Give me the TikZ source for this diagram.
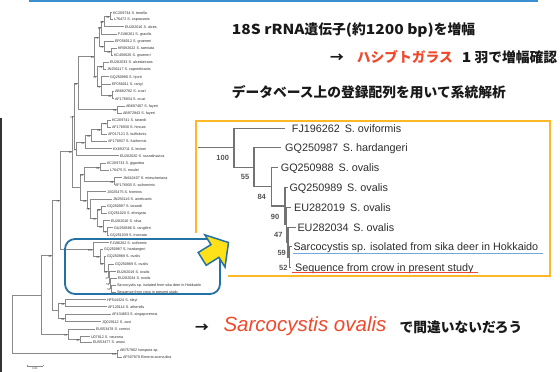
\documentclass[tikz,border=0pt]{standalone}
\usepackage{fontspec}
\usepackage{graphicx}
\setmainfont{Liberation Sans}
\newfontfamily\cjk{Noto Sans CJK JP}
\definecolor{topblue}{HTML}{3A8FD0}
\definecolor{boxblue}{HTML}{2471A3}
\definecolor{gold}{HTML}{FDB827}
\definecolor{arrowyellow}{HTML}{FFE11A}
\definecolor{redtxt}{HTML}{EE4A2C}
\definecolor{treegray}{HTML}{8A8A8A}
\definecolor{txtgray}{HTML}{2E2E2E}
\definecolor{ulblue}{HTML}{6FA8DC}
\definecolor{bstxt}{HTML}{555555}
\newcommand\Lf[4]{\coordinate (L#1) at (#2,#3); \node[lf] (tL#1) at (#2+0.8,#3+1.3) {#4};}
\newcommand\Bs[2]{\node[bs] (b#1) at (#1) {#2};}
\newcommand\Rl[5]{\coordinate (R#1) at (#2,#4); \node[rt] (tR#1) at (#3,#4+3.8) {#5};}
\newcommand\lat[1]{\scalebox{1.13}[1]{#1}}
\begin{document}
\begin{tikzpicture}[x=1pt,y=-1pt,
  br/.style={draw=treegray,line width=0.45pt},
  lf/.style={anchor=base west,inner sep=0pt,font=\fontsize{3.7}{4}\selectfont,text=txtgray},
  bs/.style={anchor=north east,inner sep=0pt,xshift=-0.3pt,yshift=-0.2pt,font=\fontsize{2.7}{3}\selectfont,text=txtgray},
  rbr/.style={draw=gray!90!black,line width=1.1pt},
  rt/.style={anchor=base west,inner sep=0pt,font=\fontsize{10.8}{12}\selectfont,text=txtgray},
  rbs/.style={inner sep=0pt,font=\fontsize{7.5}{8}\selectfont\bfseries,text=bstxt},
  jp/.style={anchor=base west,inner sep=0pt,font=\cjk\bfseries\fontsize{13.75}{15}\selectfont,text=black!90}
]
\useasboundingbox (0,0) rectangle (560,372);
\fill[white] (0,0) rectangle (560,372);
\fill[black!80] (0,118) rectangle (2,372);
\draw[topblue,line width=1.8pt] (29,1) -- (538,1);

% ---------- small tree: leaves ----------
\Lf{1}{112}{12.7}{KC209734 S. tenella}
\Lf{2}{113}{19.3}{L76472 S. capracanis}
\Lf{3}{124}{26.7}{EU282016 S. alces}
\Lf{4}{117}{34}{FJ196261 S. gracilis}
\Lf{5}{114}{41.3}{EF056012 S. grueneri}
\Lf{6}{117}{48.3}{KR092622 S. taeniata}
\Lf{7}{113}{55}{KC456626 S. grueneri}
\Lf{8}{109}{62.3}{EU282033 S. alceslatrans}
\Lf{9}{106}{69.3}{JN256117 S. capreolicanis}
\Lf{10}{109}{76.7}{GQ250990 S. hjorti}
\Lf{11}{111}{84}{EF056011 S. rangi}
\Lf{12}{114}{91}{AB682782 S. cruzi}
\Lf{13}{114}{98.7}{AF176934 S. cruzi}
\Lf{14}{125}{106}{AB697487 S. fayeri}
\Lf{15}{122}{113.3}{AB972943 S. fayeri}
\Lf{16}{111}{120}{KC209741 S. tarandi}
\Lf{17}{111}{127.3}{AF176930 S. hirsuta}
\Lf{18}{107}{134.3}{AF017121 S. buffalonis}
\Lf{19}{107}{141.3}{AF176937 S. fusiformis}
\Lf{20}{112}{148.7}{KX693711 S. levinei}
\Lf{21}{119}{155.7}{EU282020 S. scandinavica}
\Lf{22}{106}{163.3}{KC209733 S. gigantea}
\Lf{23}{109}{170.3}{L76475 S. moulei}
\Lf{24}{122}{177.7}{JN642407 S. miescheriana}
\Lf{25}{114}{184.7}{AF176935 S. suihominis}
\Lf{26}{106}{191.7}{JX025475 S. hominis}
\Lf{27}{112}{199}{JN256116 S. arieticanis}
\Lf{28}{106}{206.3}{GQ250997 S. tarandi}
\Lf{29}{107}{213}{GQ251020 S. elongata}
\Lf{30}{110}{220.7}{EU282016 S. silva}
\Lf{31}{113}{227.7}{GU258886 S. rangiferi}
\Lf{32}{109}{235}{GQ251039 S. truncata}
\Lf{33}{109}{242.7}{FJ196262 S. oviformis}
\Lf{34}{103}{249.3}{GQ250987 S. hardangeri}
\Lf{35}{106}{256}{GQ250988 S. ovalis}
\Lf{36}{114}{264}{GQ250989 S. ovalis}
\Lf{37}{116}{271.7}{EU282019 S. ovalis}
\Lf{38}{117}{278.3}{EU282034 S. ovalis}
\Lf{39}{116}{285}{Sarcocystis sp. isolated from sika deer in Hokkaido}
\Lf{40}{116}{292.3}{Sequence from crow in present study}
\Lf{41}{106}{299.7}{HF544324 S. rileyi}
\Lf{42}{107}{306.7}{AF120114 S. atheridis}
\Lf{43}{111}{314.3}{AF434853 S. singaporensis}
\Lf{44}{101}{321.7}{JQ029112 S. zuoi}
\Lf{45}{95}{329}{EU553478 S. cornixi}
\Lf{46}{90}{336.7}{U07812 S. neurona}
\Lf{47}{92}{342.3}{EU553477 S. anasi}
\Lf{48}{119}{350}{AB757862 Isospora sp.}
\Lf{49}{122}{357.3}{AF307878 Eimeria acervulina}

% ---------- small tree: internal nodes ----------
\coordinate (n12) at (110,16);
\coordinate (n123) at (104,21.35);
\coordinate (n1234) at (101.5,27.7);
\coordinate (n67) at (111,51.65);
\coordinate (n567) at (104,46.5);
\coordinate (n17) at (99,37.1);
\coordinate (n89) at (103,65.8);
\coordinate (n1213) at (112,94.85);
\coordinate (n1013) at (101,85.8);
\coordinate (n813) at (97,75.8);
\coordinate (nA) at (94.5,56.45);
\coordinate (nF) at (117,109.65);
\coordinate (n42) at (78,83.05);
\coordinate (n1617) at (107,123.65);
\coordinate (n1618) at (101,128.98);
\coordinate (n1619) at (91,135.14);
\coordinate (n1620) at (85,141.92);
\coordinate (n1621) at (76.5,148.81);
\coordinate (n51) at (74,115.93);
\coordinate (n2223) at (100,166.8);
\coordinate (n2425) at (114,181.2);
\coordinate (nE) at (84,174);
\coordinate (n2829) at (101,209.65);
\coordinate (n3132) at (107,231.35);
\coordinate (n3032) at (103,226.03);
\coordinate (n2832) at (97,217.84);
\coordinate (n2732) at (90,208.42);
\coordinate (nD) at (87,200.06);
\coordinate (n7) at (80,187.03);
\coordinate (n88) at (72.5,151.48);
\coordinate (o52) at (111,288.65);
\coordinate (o59) at (110,283.48);
\coordinate (o47) at (109,277.59);
\coordinate (o90) at (108,270.8);
\coordinate (o84) at (104,263.4);
\coordinate (o55) at (100,256.35);
\coordinate (o100) at (93,249.5);
\coordinate (n75) at (60,200.49);
\coordinate (n4142) at (65,303.2);
\coordinate (n4344) at (65,318);
\coordinate (n4144) at (58,310.6);
\coordinate (n48) at (52,255.55);
\coordinate (n4647) at (80,339.5);
\coordinate (n4547) at (68,334.25);
\coordinate (nI) at (41,294.9);
\coordinate (nO) at (117,353.65);
\coordinate (nR) at (12,324.3);

\foreach \p/\c in {n12/L1,n12/L2,n123/n12,n123/L3,n1234/n123,n1234/L4,
  n67/L6,n67/L7,n567/L5,n567/n67,n17/n1234,n17/n567,n89/L8,n89/L9,
  n1213/L12,n1213/L13,n1013/L10,n1013/L11,n1013/n1213,n813/n89,n813/n1013,
  nA/n17,nA/n813,nF/L14,nF/L15,n42/nA,n42/nF,
  n1617/L16,n1617/L17,n1618/n1617,n1618/L18,n1619/n1618,n1619/L19,
  n1620/n1619,n1620/L20,n1621/n1620,n1621/L21,n51/n42,n51/n1621,
  n2223/L22,n2223/L23,n2425/L24,n2425/L25,nE/n2223,nE/n2425,
  n2829/L28,n2829/L29,n3132/L31,n3132/L32,n3032/L30,n3032/n3132,
  n2832/n2829,n2832/n3032,n2732/L27,n2732/n2832,nD/L26,nD/n2732,
  n7/nE,n7/nD,n88/n51,n88/n7,
  o52/L39,o52/L40,o59/L38,o59/o52,o47/L37,o47/o59,o90/L36,o90/o47,
  o84/L35,o84/o90,o55/L34,o55/o84,o100/L33,o100/o55,
  n75/n88,n75/o100,n4142/L41,n4142/L42,n4344/L43,n4344/L44,
  n4144/n4142,n4144/n4344,n48/n75,n48/n4144,n4647/L46,n4647/L47,
  n4547/L45,n4547/n4647,nI/n48,nI/n4547,nO/L48,nO/L49,nR/nI,nR/nO}
  {\draw[br] (\p) |- (\c);}

% bootstrap values (small tree)
\Bs{n12}{44}\Bs{n123}{98}\Bs{n1234}{58}\Bs{n67}{93}\Bs{n567}{72}\Bs{n17}{74}
\Bs{n89}{74}\Bs{n1213}{99}\Bs{n1013}{71}\Bs{n813}{51}\Bs{nA}{99}\Bs{nF}{99}
\Bs{n42}{42}\Bs{n1617}{77}\Bs{n1618}{99}\Bs{n1619}{86}\Bs{n1620}{91}\Bs{n1621}{7}
\Bs{n51}{51}\Bs{n2223}{96}\Bs{n2425}{99}\Bs{nE}{91}\Bs{n2829}{44}\Bs{n3132}{74}
\Bs{n3032}{91}\Bs{n2832}{97}\Bs{n2732}{78}\Bs{nD}{94}\Bs{n88}{88}
\Bs{o52}{52}\Bs{o59}{59}\Bs{o47}{47}\Bs{o90}{90}\Bs{o84}{84}\Bs{o55}{55}\Bs{o100}{100}
\Bs{n75}{75}\Bs{n48}{48}\Bs{n4142}{45}\Bs{n4344}{92}\Bs{n4647}{90}\Bs{n4547}{67}\Bs{nO}{100}

% scale bar
\coordinate (sb1) at (27,366);
\coordinate (sb2) at (43,366);
\draw[br] (sb1) -- (sb2);
\draw[br] (sb1) -- ++(0,-1.2);
\draw[br] (sb2) -- ++(0,-1.2);
\node[inner sep=0pt,anchor=north,font=\fontsize{2.7}{3}\selectfont,text=txtgray] (sbl) at (35,367.5) {0.01};

% blue rounded box around ovalis clade
\draw[boxblue,line width=1.8pt,rounded corners=10pt] (65,239) rectangle (220,294);

% ---------- enlarged tree ----------
\draw[gold,line width=2pt] (228,276) -- (550,276) -- (550,120.7) -- (196,120.7) -- (196,233);

\coordinate (R0) at (198,147.8);
\coordinate (r100) at (234,147.8);
\coordinate (r55) at (254,167.3);
\coordinate (r84) at (271.7,186.9);
\coordinate (r90) at (285,206);
\coordinate (r47) at (286.7,224.7);
\coordinate (r59) at (288,242);
\coordinate (r52) at (289.5,257);
\Rl{1}{285}{291.7}{128.3}{FJ196262\hspace{0.45em}S. oviformis}
\Rl{2}{280.7}{285}{147.7}{GQ250987\hspace{0.45em}S. hardangeri}
\Rl{3}{278.3}{280.7}{167.7}{GQ250988\hspace{0.45em}S. ovalis}
\Rl{4}{288.3}{289.3}{187.3}{GQ250989\hspace{0.45em}S. ovalis}
\Rl{5}{290.7}{294}{207.3}{EU282019\hspace{0.45em}S. ovalis}
\Rl{6}{296}{297.3}{227.3}{EU282034\hspace{0.45em}S. ovalis}
\Rl{7}{292}{293.3}{246.7}{Sarcocystis sp. isolated from sika deer in Hokkaido}
\Rl{8}{291}{295}{267.3}{Sequence from crow in present study}
\draw[rbr] (R0) -- (r100);
\foreach \p/\c in {r100/R1,r100/r55,r55/R2,r55/r84,r84/R3,r84/r90,r90/R4,r90/r47,
  r47/R5,r47/r59,r59/R6,r59/r52,r52/R7,r52/R8}
  {\draw[rbr] (\p) |- (\c);}
\node[rbs] (rb100) at (222.7,158.3) {100};
\node[rbs] (rb55) at (245,177.3) {55};
\node[rbs] (rb84) at (261.7,197.3) {84};
\node[rbs] (rb90) at (275,216.7) {90};
\node[rbs] (rb47) at (278.3,235) {47};
\node[rbs] (rb59) at (281.7,253.3) {59};
\node[rbs] (rb52) at (283.3,268.3) {52};
\draw[ulblue,line width=1.3pt] (292.7,253.3) -- (543.3,253.3);
\draw[redtxt,line width=1.3pt] (291.7,272.7) -- (478.3,272.7);

% yellow arrow
\draw[boxblue,fill=arrowyellow,line width=1.5pt,line join=miter]
  (228.5,242.5) -- (204.86,234.87) -- (210.96,244.62) -- (198.2,252.5)
  -- (206.2,265.3) -- (218.9,257.34) -- (225.0,267.09) -- cycle;

% ---------- Japanese texts ----------
\node[jp] (t1) at (231.7,34.8) {\lat{18S rRNA}遺伝子\lat{(}約\lat{1200 bp)}を増幅};
\node[jp] (t2a) at (330,62.5) {→};
\node[jp,text=redtxt] (t2b) at (356.7,62.5) {ハシブトガラス};
\node[jp] (t2c) at (461.7,62.5) {\lat{1} 羽で増幅確認};
\node[jp] (t3) at (231.7,97.5) {データベース上の登録配列を用いて系統解析};
\node[jp] (t4a) at (195,332) {→};
\node[anchor=base west,inner sep=0pt,font=\fontsize{20.5}{22}\selectfont\itshape,text=redtxt] (t4b) at (223.3,331.5) {Sarcocystis ovalis};
\node[jp] (t4c) at (399.3,332) {で間違いないだろう};
\end{tikzpicture}
\end{document}
